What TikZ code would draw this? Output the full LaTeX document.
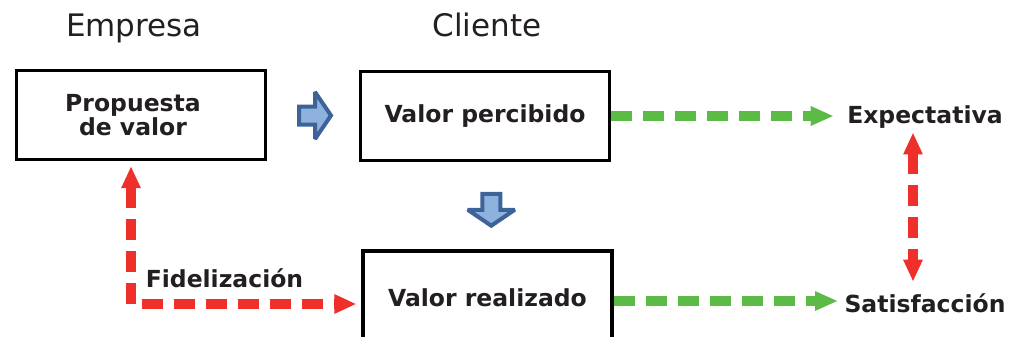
\documentclass[tikz,border=0pt]{standalone}
\usepackage{fontspec}
\setmainfont{DejaVu Sans}
\usetikzlibrary{arrows.meta}
\usetikzlibrary{positioning}
\definecolor{penRed}{HTML}{EE2F2A}
\definecolor{penGreen}{HTML}{5CBB47}
\definecolor{arrowDark}{HTML}{3E6399}
\definecolor{arrowLight}{HTML}{8DB2DD}
\definecolor{inkColor}{HTML}{231F20}
\tikzset{
  box/.style={draw, line width=3.2pt, minimum width=249pt, minimum height=89pt, inner sep=0pt},
  boldtext/.style={font=\fontsize{23.5}{24}\selectfont\bfseries, text=inkColor},
  heading/.style={font=\fontsize{31}{34}\selectfont, text=inkColor},
  blockarrow/.pic={
    \draw[draw=arrowDark, fill=arrowLight, line width=4pt, miter limit=2]
      (-16,-9) -- (0,-9) -- (0,-23.5) -- (16,0) -- (0,23.5) -- (0,9) -- (-16,9) -- cycle;
  },
  dashline/.style={line width=10pt, dash pattern=on 21pt off 11pt},
  redline/.style={dashline, draw=penRed, {Triangle[length=22pt,width=18pt]}-{Triangle[length=22pt,width=18pt]}},
  greenline/.style={dashline, draw=penGreen, -{Triangle[length=23pt,width=18pt]}},
}
\begin{document}
\begin{tikzpicture}[x=1pt,y=-1pt]
    \useasboundingbox (0,0) rectangle (1010,337);

    \node[heading, anchor=base] (empresa) at (134,37) {Empresa};
    \node[heading, anchor=base] (cliente) at (487,37) {Cliente};

    \node[box, label={[boldtext, align=center, xshift=-8pt]center:{Propuesta\\de valor}}] (prop) at (141,115) {};
    \node[box, boldtext] (percib) at (485,116) {Valor percibido};
    \node[box, boldtext, minimum height=94pt] (realiz) at (487.5,298) {Valor realizado};

    \node[boldtext, anchor=base] (expect) at (925,124) {Expectativa};
    \node[boldtext, anchor=base] (satisf) at (925,312) {Satisfacción};
    \node[boldtext, anchor=base] (fidel) at (224.5,287) {Fidelización};

    % blue block arrows
    \path (prop) -- (percib) coordinate[midway] (rmid);
    \pic at ([xshift=2pt]rmid) {blockarrow};
    \path (percib.south) -- (realiz.north) coordinate[midway] (dmid);
    \pic[rotate=-90] at ([xshift=5pt,yshift=-4pt]dmid) {blockarrow};

    % green dashed arrows
    \draw[greenline, shorten >=10pt] (percib.east) -- (percib.east -| expect.west);
    \draw[greenline, shorten >=3pt] ([yshift=-3pt]realiz.east) -- ([yshift=-3pt]realiz.east -| satisf.west);

    % red dashed arrows
    \coordinate (vx) at (913,0);
    \draw[redline, shorten >=8pt] (expect.south -| vx) -- (satisf.north -| vx);
    \coordinate (bend) at (131,304);
    \draw[redline, shorten <=5pt, shorten >=5pt] (prop.south -| bend) -- (bend) -- (bend -| realiz.west);
\end{tikzpicture}
\end{document}
